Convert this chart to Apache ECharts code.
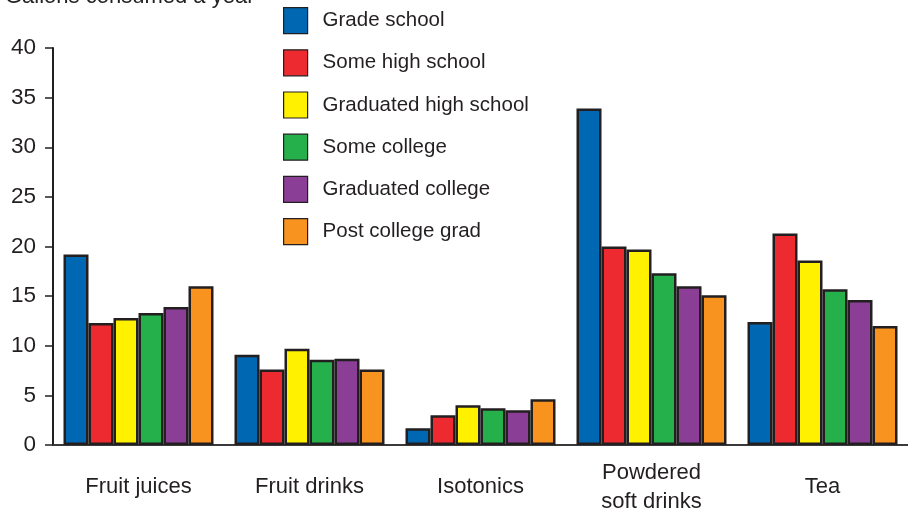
<!DOCTYPE html>
<html><head><meta charset="utf-8">
<script src="https://cdn.jsdelivr.net/npm/echarts@6/dist/echarts.min.js"></script>
<style>html,body{margin:0;padding:0;background:#fff}#c{width:908px;height:519px}</style>
</head><body><div id="c"></div>
<script>
const categories = ['Fruit juices', 'Fruit drinks', 'Isotonics', 'Powdered\nsoft drinks', 'Tea'];
const seriesNames = ['Grade school', 'Some high school', 'Graduated high school', 'Some college', 'Graduated college', 'Post college grad'];
const gradeSchool = [19.2, 9.1, 1.7, 33.9, 12.4];
const someHighSchool = [12.3, 7.6, 3.0, 20.0, 21.3];
const gradHighSchool = [12.8, 9.7, 4.0, 19.7, 18.6];
const someCollege = [13.3, 8.6, 3.7, 17.3, 15.7];
const gradCollege = [13.9, 8.7, 3.5, 16.0, 14.6];
const postCollege = [16.0, 7.6, 4.6, 15.1, 12.0];
const yTicks = [0, 5, 10, 15, 20, 25, 30, 35, 40];
const titleText = 'Gallons consumed a year';

const values = [gradeSchool, someHighSchool, gradHighSchool, someCollege, gradCollege, postCollege];
const colors = ['#0068B2', '#EC2A2F', '#FFF100', '#25B04B', '#8B3E96', '#F7931E'];
const font = 'Liberation Sans, Arial, sans-serif';
const chart = echarts.init(document.getElementById('c'), null, {renderer: 'canvas'});
chart.setOption({
  animation: false,
  backgroundColor: '#fff',
  title: {text: titleText, left: 0, top: -19, textStyle: {fontFamily: font, fontSize: 22, fontWeight: 'normal', color: '#231F20'}},
  legend: {
    orient: 'vertical', left: 278, top: 2, itemWidth: 24, itemHeight: 26, itemGap: 15,
    icon: 'rect',
    data: seriesNames,
    textStyle: {fontFamily: font, fontSize: 20.5, color: '#231F20', padding: [0, 0, 0, 10]},
    itemStyle: {borderColor: '#231F20', borderWidth: 1.2}
  },
  grid: {left: 53, right: 0, top: 48, bottom: 74, containLabel: false},
  xAxis: {
    type: 'category', data: categories,
    axisLine: {lineStyle: {color: '#3a3a3a', width: 2}},
    axisTick: {alignWithLabel: true, length: 10, lineStyle: {color: '#3a3a3a', width: 1}},
    axisLabel: {fontFamily: font, fontSize: 22, color: '#231F20', margin: 42, lineHeight: 29, verticalAlign: 'middle'}
  },
  yAxis: {
    type: 'value', min: yTicks[0], max: yTicks[yTicks.length - 1], interval: yTicks[1] - yTicks[0],
    axisLine: {show: true, lineStyle: {color: '#231F20', width: 2}},
    axisTick: {show: true, length: 8, lineStyle: {color: '#231F20', width: 1.5}},
    splitLine: {show: false},
    axisLabel: {fontFamily: font, fontSize: 22.5, color: '#231F20', margin: 17}
  },
  series: seriesNames.map((n, i) => ({
    name: n, type: 'bar', data: values[i], barWidth: 25, barGap: '0%',
    itemStyle: {color: colors[i], borderColor: '#231F20', borderWidth: 2.5}
  }))
});
</script></body></html>
